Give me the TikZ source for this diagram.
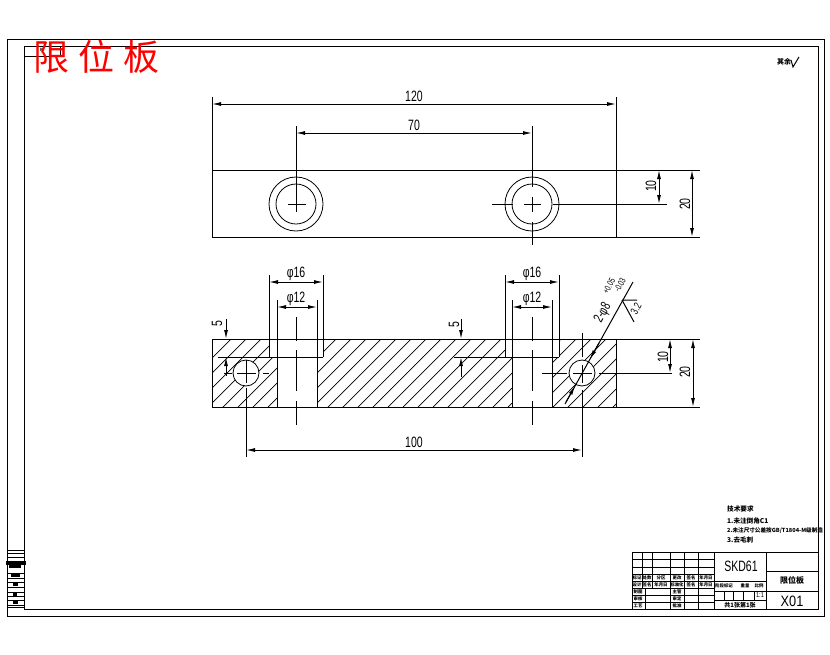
\documentclass[tikz,border=0pt]{standalone}
\usepackage{fontspec}
\setmainfont{Liberation Sans}
\newfontfamily\cjkf{Noto Sans CJK SC}
\usetikzlibrary{arrows.meta}
\newcommand{\cadt}[1]{\scalebox{0.7}[1]{\fontsize{15}{15}\selectfont #1}}
\newcommand{\cads}[1]{\scalebox{0.7}[1]{\fontsize{14}{14}\selectfont #1}}
\tikzset{
  x=1pt,y=-1pt,
  ln/.style={line width=1pt,black},
  thin1/.style={line width=0.8pt,black},
  dimn/.style={line width=1pt,black,{Latex[length=9pt,width=4pt]}-{Latex[length=9pt,width=4pt]}},
  tipb/.style={line width=1pt,black,-{Latex[length=9pt,width=4pt]}},
  lab/.style={inner sep=0pt,black},
  tiny1/.style={inner sep=0pt,font=\cjkf\bfseries\fontsize{4.4}{5}\selectfont,black},
  note1/.style={inner sep=0pt,anchor=west,font=\cjkf\bfseries\fontsize{6.6}{7}\selectfont,black},
}
\begin{document}
\begin{tikzpicture}
\useasboundingbox (0,0) rectangle (830,654);
\fill[white] (0,0) rectangle (830,654);
% frames
\draw[ln] (7,39) rectangle (824,616);
\draw[ln] (24,46) rectangle (818,609);
\draw[ln] (24,56) -- (60,56) -- (60,46);
\node[tiny1] (tl) at (42,50) {M};
% title
\node[lab,red,font=\cjkf\fontsize{36}{36}\selectfont] (ttl) at (97,57) {限\hspace{9pt}位\hspace{9pt}板};
\node[tiny1,font=\cjkf\bfseries\fontsize{7}{7}\selectfont] (rough) at (784,62) {其余};
\draw[ln] (791,60) -- (793,67) -- (799,57);
% top view
\draw[ln] (212,170) rectangle (616,237);
\draw[ln] (212,97) -- (212,170) (616,97) -- (616,237);
\draw[ln] (616,170) -- (700,170) (616,237) -- (700,237);
\draw[dimn] (212,104) -- (616,104);
\node[lab] (d120) at (414,96) {\cadt{120}};
\draw[dimn] (296,133) -- (532,133);
\node[lab] (d70) at (414,125) {\cadt{70}};
\draw[ln] (296,126) -- (296,212) (288,204) -- (306,204);
\draw[thin1] (296,204) circle (27) (296,204) circle (20);
\draw[ln] (532,126) -- (532,187) (532,197) -- (532,212) (532,222) -- (532,245);
\draw[thin1] (532,204) circle (27) (532,204) circle (20);
\draw[ln] (492,204) -- (513,204) (524,204) -- (541,204) (553,204) -- (667,204);
\draw[dimn] (659,170) -- (659,204);
\node[lab,rotate=90] (t10) at (651,186) {\cadt{10}};
\draw[dimn] (692,170) -- (692,237);
\node[lab,rotate=90] (t20) at (685,204) {\cadt{20}};
% hatch
\begin{scope}
\clip (212,339) -- (269,339) -- (269,357) -- (277,357) -- (277,407) -- (212,407) -- cycle
      (323,339) -- (505,339) -- (505,357) -- (512,357) -- (512,407) -- (317,407) -- (317,357) -- (323,357) -- cycle
      (559,339) -- (616,339) -- (616,407) -- (552,407) -- (552,357) -- (559,357) -- cycle;
\foreach \i in {0,...,36}{\draw[line width=0.7pt] ({150+\i*15},420) -- ({150+\i*15+90},330);}
\end{scope}
% front view
\draw[ln] (212,339) -- (616,339) -- (616,407) -- (212,407) -- cycle;
\draw[ln] (269,275) -- (269,357) (323,275) -- (323,357) (277,300) -- (277,407) (317,300) -- (317,407);
\draw[ln] (505,275) -- (505,357) (559,275) -- (559,357) (512,300) -- (512,407) (552,300) -- (552,407);
\draw[ln] (218,357) -- (323,357) (454,357) -- (559,357);
\draw[dimn] (269,282) -- (323,282);
\draw[dimn] (277,307) -- (317,307);
\draw[dimn] (505,282) -- (559,282);
\draw[dimn] (512,307) -- (552,307);
\node[lab] (a1) at (296,274) {\cadt{φ16}};
\node[lab] (a2) at (296,299) {\cadt{φ12}};
\node[lab] (a3) at (532,274) {\cadt{φ16}};
\node[lab] (a4) at (532,299) {\cadt{φ12}};
\foreach \cx in {296,532}{\draw[ln] (\cx,317) -- (\cx,341) (\cx,350) -- (\cx,391) (\cx,401) -- (\cx,425);}
% pin holes
\draw[thin1,fill=white] (246,373) circle (13);
\draw[thin1,fill=white] (582,373) circle (13);
\draw[ln] (224,373) -- (232,373) (237,373) -- (256,373) (263,373) -- (269,373);
\draw[ln] (246,360) -- (246,383) (246,388) -- (246,457);
\draw[ln] (542,373) -- (567,373) (573,373) -- (592,373) (599,373) -- (672,373);
\draw[ln] (582,333) -- (582,357) (582,365) -- (582,383) (582,390) -- (582,457);
% 5 dims
\draw[tipb] (226,319) -- (226,339);
\draw[tipb] (226,376) -- (226,357);
\draw[tipb] (461,319) -- (461,339);
\draw[tipb] (461,377) -- (461,357);
\node[lab,rotate=90] (f1) at (217,324) {\cadt{5}};
\node[lab,rotate=90] (f2) at (454,325) {\cadt{5}};
\draw[dimn] (246,450) -- (582,450);
\node[lab] (d100) at (414,442) {\cadt{100}};
\draw[dimn] (670,339) -- (670,373);
\draw[dimn] (693,339) -- (693,407);
\draw[ln] (616,339) -- (700,339) (616,407) -- (700,407);
\node[lab,rotate=90] (g10) at (663,357) {\cadt{10}};
\node[lab,rotate=90] (g20) at (685,372) {\cadt{20}};
% leader
\coordinate (la) at (565,404);
\coordinate (lb) at (633,282);
\draw[ln] (la) -- (lb);
\draw[tipb] (566,402) -- (575,386);
\draw[tipb] (599,343) -- (590,359);
\node[lab,rotate=61] (lead) at (603,313) {\cads{2-φ8}};
\node[lab,rotate=61] (tolu) at (609,286) {\scalebox{0.7}[1]{\fontsize{9}{9}\selectfont +0.05}};
\node[lab,rotate=61] (toll) at (620,285) {\scalebox{0.7}[1]{\fontsize{9}{9}\selectfont -0.03}};
\draw[ln] (622,300) -- (637,300) (622,300) -- (634,322);
\node[lab,rotate=61] (r32) at (636,309) {\scalebox{0.7}[1]{\fontsize{11}{11}\selectfont 3.2}};
% notes
\node[note1] (n0) at (727,509) {技术要求};
\node[note1] (n1) at (727,521) {1.未注倒角C1};
\node[note1,font=\cjkf\bfseries\fontsize{5.6}{6}\selectfont] (n2) at (727,531) {2.未注尺寸公差按GB/T1804-M级制造};
\node[note1] (n3) at (727,540) {3.去毛刺};
% title block
\draw[ln] (632,552) rectangle (818,609);
\draw[ln] (714,552) -- (714,609) (766,552) -- (766,609);
\draw[ln] (766,571) -- (818,571) (714,591) -- (818,591) (714,581) -- (766,581) (714,600) -- (766,600);
\foreach \y in {559,567,574,581,588,595,602}{\draw[ln] (632,\y) -- (714,\y);}
\foreach \x in {642,652,670,684,698}{\draw[ln] (\x,552) -- (\x,588);}
\foreach \x in {645,684,698}{\draw[ln] (\x,588) -- (\x,609);}
\draw[ln] (670,588) -- (670,609);
\foreach \x in {724,733,743,754}{\draw[ln] (\x,591) -- (\x,600);}
\foreach \xx/\tt/\nm in {637/标记/h1,647/处数/h2,661/分区/h3,677/更改/h4,691/签名/h5,706/年月日/h6}{\node[tiny1] (\nm) at (\xx,577.5) {\tt};}
\foreach \xx/\tt/\nm in {637/设计/i1,647/签名/i2,661/年月日/i3,677/标准化/i4,691/签名/i5,706/年月日/i6}{\node[tiny1] (\nm) at (\xx,584.5) {\tt};}
\node[tiny1] (j1) at (638,591.5) {制图};
\node[tiny1] (j2) at (638,598.5) {审核};
\node[tiny1] (j3) at (638,605.5) {工艺};
\node[tiny1] (k1) at (677,591.5) {主管};
\node[tiny1] (k2) at (677,598.5) {审定};
\node[tiny1] (k3) at (677,605.5) {批准};
\node[lab] (mat) at (741,566) {\cadt{SKD61}};
\node[tiny1] (s1) at (724,586) {阶段标记};
\node[tiny1] (s2) at (745,586) {重量};
\node[tiny1] (s3) at (759,586) {比例};
\node[lab] (s4) at (760,595.5) {\scalebox{0.8}[1]{\fontsize{7}{7}\selectfont 1:1}};
\node[tiny1,font=\cjkf\bfseries\fontsize{6}{6}\selectfont] (s5) at (740,605) {共1张第1张};
\node[inner sep=0pt,font=\cjkf\bfseries\fontsize{8}{8}\selectfont] (nm1) at (792,580) {限位板};
\node[lab] (nm2) at (792,601) {\scalebox{0.85}[1]{\fontsize{15}{15}\selectfont X01}};
% stamp strip
\draw[ln] (7,550) -- (25,550) (7,553) -- (25,553) (7,557) -- (25,557);
\fill[black] (6,561) rectangle (26,564.5);
\fill[black] (9,565) rectangle (21,568);
\draw[ln] (7,573) -- (25,573) (7,578) -- (25,578) (7,582) -- (25,582) (7,587) -- (25,587) (7,592) -- (25,592) (7,596) -- (25,596) (7,600) -- (25,600) (7,605) -- (25,605) (7,607) -- (25,607);
\fill[black] (11,574) rectangle (20,577);
\fill[black] (13,583) rectangle (18,586);
\fill[black] (13,592.5) rectangle (17,595.5);
\fill[black] (13,601) rectangle (18,604);
\end{tikzpicture}
\end{document}
